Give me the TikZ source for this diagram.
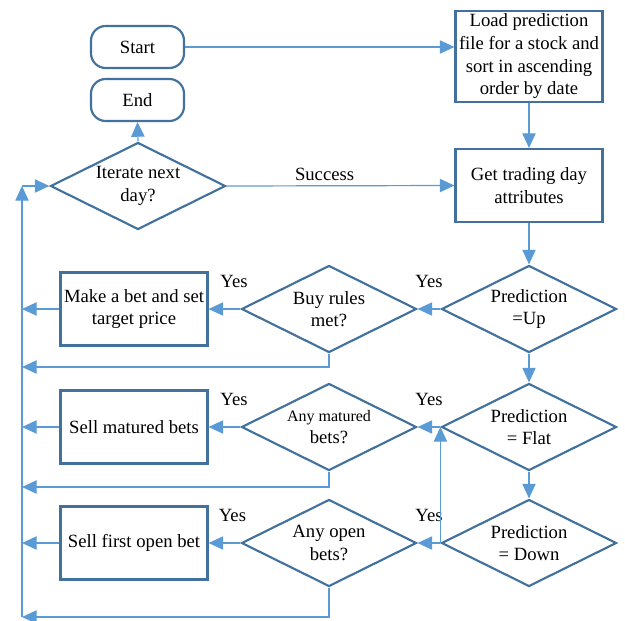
\documentclass[tikz,border=0pt]{standalone}
\usepackage{fontspec}
\setmainfont{Liberation Serif}
\usetikzlibrary{arrows.meta,shapes.geometric}
\definecolor{boxblue}{HTML}{41719C}
\definecolor{linkblue}{HTML}{5B9BD5}

\begin{document}
\begin{tikzpicture}[x=0.75pt,y=-0.75pt]
    % --- Dimensions (layout grid in pixels) ---
    \def\px{0.75pt}
    \def\BusX{22}      % x of the return bus on the left
    \def\LeftX{134}    % column of the action boxes
    \def\MidX{329}     % column of the rule checks
    \def\RightX{529}   % column of the prediction checks
    \def\BoxW{147}     % process box width
    \def\BoxH{73}      % process box height
    \def\DiaW{175}     % decision width
    \def\DiaH{87}      % decision height

    % --- Styles ---
    \tikzset{
        base text/.style={
            font=\fontsize{14}{17}\selectfont,
            align=center,
            text=black
        },
        terminal/.style={
            base text,
            draw=boxblue, line width=1.6pt,
            rounded corners=11pt,
            minimum width=93*\px, minimum height=42*\px,
            inner sep=0pt
        },
        process/.style={
            base text,
            draw=boxblue, line width=1.6pt,
            minimum width=\BoxW*\px, minimum height=\BoxH*\px,
            inner sep=0pt
        },
        decision/.style={
            base text,
            draw=boxblue, line width=1.6pt,
            diamond, aspect=2,
            minimum width=\DiaW*\px, minimum height=\DiaH*\px,
            inner sep=0pt
        },
        link/.style={
            draw=linkblue,
            line width=0.9pt,
            -{Triangle[length=11pt,width=10pt]}
        },
        yes/.style={base text, yshift=21pt}
    }

    \useasboundingbox (0,0) rectangle (625,621);

    % =========================================================
    % 1. START / END AND THE DAY LOOP
    % =========================================================
    \node[terminal] (start) at (137.5,47) {Start};
    \node[terminal] (end) at (137.5,100) {End};
    \node[decision] (iter) at (138,186) {Iterate next\\day?};

    \node[process, minimum height=91*\px] (load) at (\RightX,56.5)
        {Load prediction\\file for a stock and\\sort in ascending\\order by date};
    \node[process] (get) at (\RightX,185.5) {Get trading day\\attributes};

    % =========================================================
    % 2. PREDICTION CHECKS (right column)
    % =========================================================
    \node[decision] (up) at (\RightX,309) {Prediction\\=Up};
    \node[decision] (flat) at (\RightX,427) {Prediction\\= Flat};
    \node[decision] (down) at (\RightX,543) {Prediction\\= Down};

    % =========================================================
    % 3. RULE CHECKS AND ACTIONS
    % =========================================================
    \node[decision] (buy) at (\MidX,309) {Buy rules\\met?};
    \node[decision] (matured) at (\MidX,427)
        {{\fontsize{12}{17}\selectfont Any matured}\\bets?};
    \node[decision] (open) at (\MidX,543) {Any open\\bets?};

    \node[process] (make) at (\LeftX,309) {Make a bet and set\\target price};
    \node[process] (sellm) at (\LeftX,427) {Sell matured bets};
    \node[process] (sello) at (\LeftX,543) {Sell first open bet};

    % Return bus points
    \coordinate (busTop) at (\BusX,186);
    \coordinate (gapA) at (\BusX,367);
    \coordinate (gapB) at (\BusX,487);
    \coordinate (busBot) at (\BusX,617);

    % =========================================================
    % 4. CONNECTORS
    % =========================================================
    \draw[link] (start.east) -- (start.east -| load.west);
    \draw[link] (load.south) -- (get.north);
    \draw[link] (iter.north) -- (end.south);
    \draw[link] (iter.east) -- node[base text, above, pos=0.43] {Success} (get.west);
    \draw[link] (get.south) -- (up.north);

    % Up branch
    \draw[link] (up.west) -- node[yes] {Yes} (buy.east);
    \draw[link] (buy.west) -- node[yes, pos=0.2] {Yes} (make.east);
    \draw[link] (make.west) -- (make.west -| busTop);
    \draw[link] (buy.south) |- (gapA);
    \draw[link] (up.south) -- (flat.north);

    % Flat branch
    \draw[link] (flat.west) -- node[yes] {Yes} (matured.east);
    \draw[link] (matured.west) -- node[yes, pos=0.2] {Yes} (sellm.east);
    \draw[link] (sellm.west) -- (sellm.west -| busTop);
    \draw[link] (matured.south) |- (gapB);
    \draw[link] (flat.south) -- (down.north);

    % Down branch
    \draw[link] (down.west) -- node[yes] {Yes} (open.east);
    \draw[link] (down.west) -- (flat.west);
    \draw[link] (open.west) -- node[yes, pos=0.25] {Yes} (sello.east);
    \draw[link] (sello.west) -- (sello.west -| busTop);
    \draw[link] (open.south) |- (busBot);

    % Back to the day loop
    \draw[link] (busBot) -- (busTop);
    \draw[link] (busTop) -- (iter.west);

\end{tikzpicture}
\end{document}
